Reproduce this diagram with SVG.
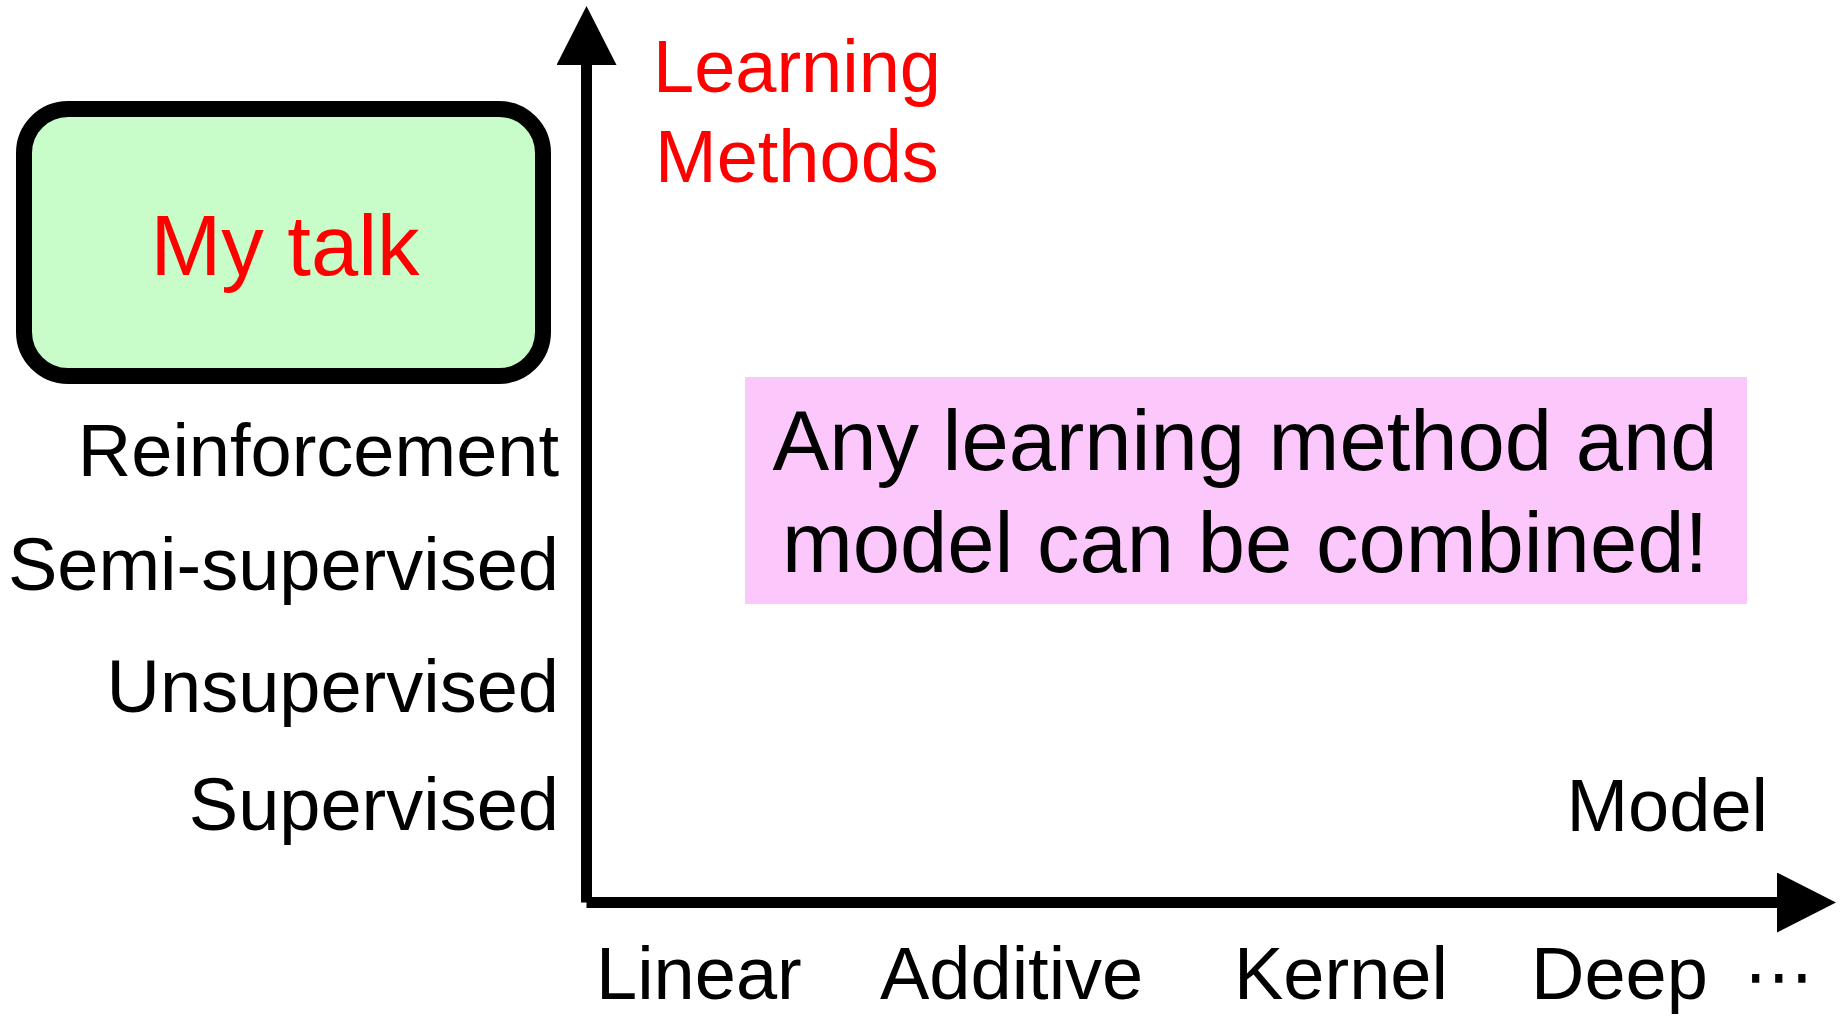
<svg xmlns="http://www.w3.org/2000/svg" width="1846" height="1019" viewBox="0 0 1846 1019">
  <style>
    text { font-family: "Liberation Sans", Arial, sans-serif; fill: #000; }
    .axis { stroke: #000; stroke-width: 11; fill: none; stroke-linecap: butt; }
    .label { font-size: 74px; }
    .red { fill: #ff0000; }
    .big { font-size: 85px; }
  </style>
  <defs>
    <marker id="head" markerUnits="userSpaceOnUse" markerWidth="60" markerHeight="60" refX="0" refY="30" orient="auto" viewBox="0 0 60 60">
      <path d="M0 0 L59 30 L0 60 Z" fill="#000"/>
    </marker>
  </defs>

  <rect width="1846" height="1019" fill="#fff"/>

  <!-- axes -->
  <g id="connectors">
    <line class="axis" x1="586.5" y1="902.5" x2="586.5" y2="65" marker-end="url(#head)"/>
    <line class="axis" x1="586.5" y1="902.5" x2="1777" y2="902.5" marker-end="url(#head)"/>
  </g>

  <!-- highlighted box -->
  <g id="my-talk">
    <rect x="24" y="109" width="519" height="267" rx="44" ry="44" fill="#c8fcc8" stroke="#000" stroke-width="16"/>
    <text class="big red" x="285" y="275" text-anchor="middle">My talk</text>
  </g>

  <!-- vertical axis title -->
  <g id="axis-title-y">
    <text class="label red" x="653" y="92">Learning</text>
    <text class="label red" x="655" y="182">Methods</text>
  </g>

  <!-- learning method labels -->
  <g id="methods">
    <text class="label" x="559" y="476" text-anchor="end">Reinforcement</text>
    <text class="label" x="559" y="590" text-anchor="end">Semi-supervised</text>
    <text class="label" x="559" y="712" text-anchor="end">Unsupervised</text>
    <text class="label" x="559" y="830" text-anchor="end">Supervised</text>
  </g>

  <!-- note -->
  <g id="note">
    <rect x="745" y="377" width="1002" height="227" fill="#fcc8fc"/>
    <text class="big" x="1245" y="470" text-anchor="middle">Any learning method and</text>
    <text class="big" x="1245" y="572" text-anchor="middle">model can be combined!</text>
  </g>

  <!-- horizontal axis title -->
  <g id="axis-title-x">
    <text class="label" x="1768" y="831" text-anchor="end">Model</text>
  </g>

  <!-- model labels -->
  <g id="models">
    <text class="label" x="596" y="999">Linear</text>
    <text class="label" x="880" y="999">Additive</text>
    <text class="label" x="1234" y="999">Kernel</text>
    <text class="label" x="1531" y="999">Deep</text>
    <text x="1779" y="1000" text-anchor="middle" style="font-family: 'DejaVu Sans', sans-serif; font-size: 70px;">⋯</text>
  </g>
</svg>
